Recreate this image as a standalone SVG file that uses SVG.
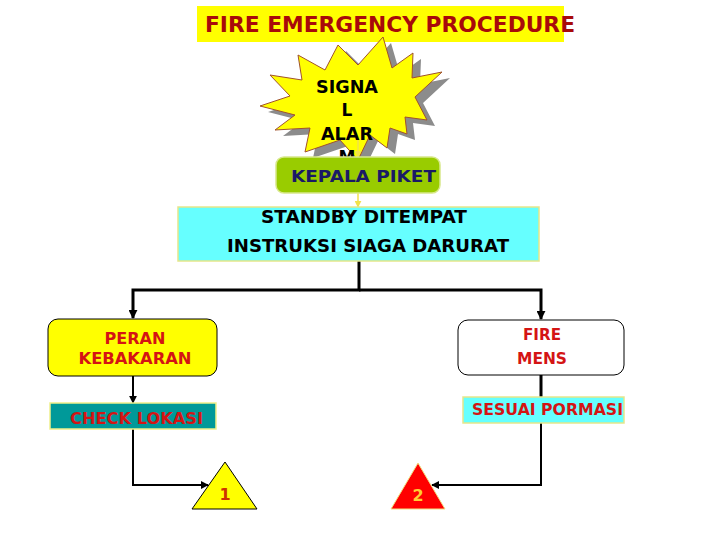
<svg xmlns="http://www.w3.org/2000/svg" width="720" height="540" viewBox="0 0 720 540">
<style>
  text { font-family: "DejaVu Sans", "Liberation Sans", sans-serif; font-weight: bold; }
  .red { fill: #D41414; font-size: 16px; }
  .blk { fill: #000; font-size: 17px; }
  .thick { stroke: #000; stroke-width: 3; fill: none; }
  .thin { stroke: #000; stroke-width: 2; fill: none; }
</style>
<defs>
  <marker id="ah" viewBox="0 0 10 10" refX="9" refY="5" markerWidth="8" markerHeight="8" orient="auto" markerUnits="userSpaceOnUse">
    <path d="M0,0 L10,5 L0,10 z" fill="#000"/>
  </marker>
  <marker id="ahs" viewBox="0 0 10 10" refX="9" refY="5" markerWidth="9" markerHeight="9" orient="auto" markerUnits="userSpaceOnUse">
    <path d="M0,0 L10,5 L0,10 z" fill="#000"/>
  </marker>
  <marker id="ahy" viewBox="0 0 10 10" refX="9" refY="5" markerWidth="7" markerHeight="7" orient="auto" markerUnits="userSpaceOnUse">
    <path d="M0,0 L10,5 L0,10 z" fill="#F2E24A"/>
  </marker>
  <polygon id="starshape" points="383,37 392,68 413,53 412,78 442,72 415,97 427,120 405,117 407,134 390,128 387,148 370,135 358,160 340,140 305,152 310,128 275,130 295,115 260,106 290,96 270,75 302,80 298,55 325,70 338,45 358,65"/>
</defs>
<rect width="720" height="540" fill="#fff"/>

<g id="title">
  <rect x="197" y="6" width="367" height="36" fill="#FFFF00"/>
  <text x="205" y="32" font-size="21" fill="#A80A0A" textLength="370" lengthAdjust="spacingAndGlyphs">FIRE EMERGENCY PROCEDURE</text>
</g>

<g id="signal">
  <use href="#starshape" transform="translate(8,6)" fill="#8C8C8C"/>
  <use href="#starshape" fill="#FFFF00" stroke="#A0522D" stroke-width="1"/>
  <text class="blk" x="347" y="93" text-anchor="middle" textLength="62" lengthAdjust="spacingAndGlyphs">SIGNA</text>
  <text class="blk" x="347" y="116" text-anchor="middle">L</text>
  <text class="blk" x="347" y="140" text-anchor="middle" textLength="52" lengthAdjust="spacingAndGlyphs">ALAR</text>
  <text class="blk" x="347" y="163" text-anchor="middle">M</text>
</g>

<g id="connectors">
  <line x1="358" y1="140" x2="358" y2="157" stroke="#F2E24A" stroke-width="1.5" marker-end="url(#ahy)"/>
  <line x1="358" y1="193" x2="358" y2="207" stroke="#F2E24A" stroke-width="1.5" marker-end="url(#ahy)"/>
  <polyline class="thick" points="359,261 359,290 133,290 133,318" marker-end="url(#ahs)"/>
  <polyline class="thick" points="359,290 541,290 541,319" marker-end="url(#ahs)"/>
  <line class="thin" x1="133" y1="376" x2="133" y2="403" marker-end="url(#ah)"/>
  <line class="thick" x1="541" y1="375" x2="541" y2="397"/>
  <polyline class="thin" points="133,429 133,485 208,485" marker-end="url(#ah)"/>
  <polyline class="thin" points="541,423 541,485 432,485" marker-end="url(#ah)"/>
</g>

<g id="kepala">
  <rect x="276" y="157" width="164" height="36" rx="8" fill="#99CC00" stroke="#D8E88A" stroke-width="1.5"/>
  <text x="291" y="182" font-size="16" fill="#1A1A66" textLength="145" lengthAdjust="spacingAndGlyphs">KEPALA PIKET</text>
</g>

<g id="standby">
  <rect x="178" y="207" width="361" height="54" fill="#66FFFF" stroke="#E6E68A" stroke-width="1.5"/>
  <text class="blk" x="364" y="223" text-anchor="middle" textLength="206" lengthAdjust="spacingAndGlyphs">STANDBY DITEMPAT</text>
  <text class="blk" x="368" y="252" text-anchor="middle" textLength="282" lengthAdjust="spacingAndGlyphs">INSTRUKSI SIAGA DARURAT</text>
</g>

<g id="peran">
  <rect x="48" y="319" width="169" height="57" rx="10" fill="#FFFF00" stroke="#000" stroke-width="1"/>
  <text class="red" x="135" y="344" text-anchor="middle" textLength="61" lengthAdjust="spacingAndGlyphs">PERAN</text>
  <text class="red" x="135" y="364" text-anchor="middle" textLength="113" lengthAdjust="spacingAndGlyphs">KEBAKARAN</text>
</g>

<g id="firemens">
  <rect x="458" y="320" width="166" height="55" rx="10" fill="#fff" stroke="#000" stroke-width="1"/>
  <text class="red" x="542" y="340" text-anchor="middle" textLength="38" lengthAdjust="spacingAndGlyphs">FIRE</text>
  <text class="red" x="542" y="364" text-anchor="middle" textLength="50" lengthAdjust="spacingAndGlyphs">MENS</text>
</g>

<g id="check">
  <rect x="50" y="403" width="166" height="26" fill="#009999" stroke="#F0F08A" stroke-width="1.5"/>
  <text class="red" x="70" y="424" fill="#CC2222" textLength="133" lengthAdjust="spacingAndGlyphs">CHECK LOKASI</text>
</g>

<g id="sesuai">
  <rect x="463" y="397" width="161" height="26" fill="#66FFFF" stroke="#E6E68A" stroke-width="1.5"/>
  <text class="red" x="472" y="415" fill="#BB2222" textLength="151" lengthAdjust="spacingAndGlyphs">SESUAI PORMASI</text>
</g>

<g id="tri1">
  <polygon points="225,462 192,509 257,509" fill="#FFFF00" stroke="#000" stroke-width="1"/>
  <text x="225" y="500" text-anchor="middle" font-size="16" fill="#CC3300">1</text>
</g>

<g id="tri2">
  <polygon points="418,463 391,509 445,509" fill="#FF0000" stroke="#F0E080" stroke-width="1"/>
  <text x="418" y="501" text-anchor="middle" font-size="16" fill="#FFCC33">2</text>
</g>
</svg>
